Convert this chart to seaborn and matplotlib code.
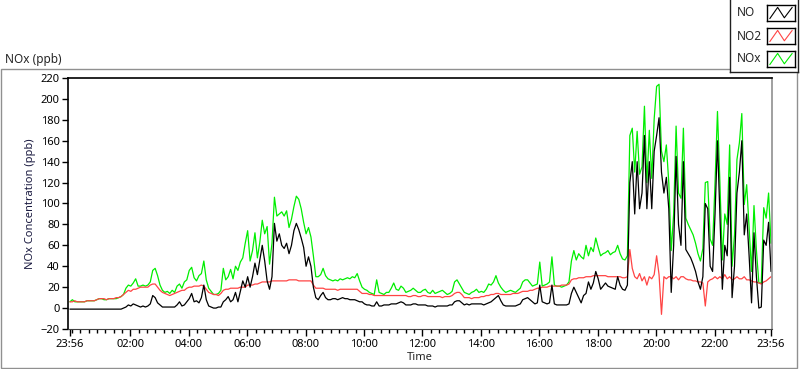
import numpy as np
import pandas as pd
import matplotlib
matplotlib.use('Agg')
import matplotlib.pyplot as plt
import seaborn as sns
from matplotlib.patches import Rectangle

# --- Données : une lecture toutes les 5 minutes, à partir de 23:56 ---
minutes = np.arange(0, 1441, 5)

no = [-1, -1, -1, -1, -1, -1, -1, -1, -1, -1, -1, -1, -1, -1, -1, -1, -1, -1, -1, -1, -1, -1, 0, 1,
      3, 2, 4, 3, 2, 1, 2, 1, 2, 4, 12, 10, 5, 3, 1, 1, 1, 1, 1, 1, 3, 6, 2, 3, 6, 9,
      14, 6, 7, 5, 10, 22, 8, 2, 1, 0, 0, 1, 1, 6, 8, 11, 6, 8, 15, 6, 16, 26, 20,
      30, 20, 30, 43, 32, 46, 60, 45, 26, 18, 30, 81,
      64, 71, 60, 57, 62, 52, 60, 74, 81, 75, 67, 58, 40, 49, 40,
      20, 10, 8, 12, 15, 10, 8, 8, 9, 9, 8, 9, 10, 9, 9, 8, 8, 8, 7,
      6, 6, 4, 3, 3, 2, 2, 6, 2, 2, 3, 3, 3, 4, 4, 4, 5, 6, 5, 3, 3, 3, 4, 4, 3, 3, 3, 3,
      2, 2, 2, 1, 2, 2, 2, 2, 2, 3, 3, 6, 7, 7, 5, 3, 4, 3, 4, 4,
      4, 4, 4, 3, 4, 5, 6, 8, 10, 12, 7, 3, 2, 2, 2, 2, 2, 3, 4, 8,
      9, 10, 8, 6, 4, 5, 22, 6, 5, 4, 5, 22, 4, 3, 3, 3, 3, 3, 4, 14,
      20, 15, 10, 5, 12, 14, 25, 18, 24, 35, 28, 18, 21, 24, 21, 20, 19, 18, 30, 22,
      18, 17, 22, 120, 140, 90, 140, 95, 110, 165, 95, 140, 95, 150, 165, 182, 130, 110, 125, 95,
      15, 60, 145, 80, 60, 140, 56, 52, 48, 42, 35, 25, 18, 30, 100, 95, 40, 35, 90, 160,
      90, 18, 60, 50, 125, 10, 40, 110, 130, 160, 70, 90, 50, 5, 72, 30, 0, 1, 65, 60,
      82, 35]

no2 = [6, 6, 7, 6, 6, 6, 6, 7, 7, 7, 7, 8, 9, 9, 9, 8, 9, 9, 9, 10, 10, 11, 13, 15,
       17, 16, 18, 18, 19, 20, 20, 20, 20, 22, 23, 23, 20, 17, 15, 14, 13, 12, 13, 14,
       15, 16, 17, 17, 19, 20, 20, 21, 21, 21, 22, 21, 18, 15, 14, 13, 13, 12, 14, 17,
       18, 18, 19, 19, 19, 19, 20, 20, 20,
       22, 22, 22, 23, 23, 24, 25, 25, 25, 25, 26, 26,
       26, 26, 26, 26, 26, 27, 27, 27, 27, 26, 26, 26, 26, 26, 26,
       22, 19, 19, 19, 19, 18, 18, 18, 18, 18, 17, 18, 18, 18, 18, 18, 18, 18, 18,
       16, 14, 14, 14, 13, 13, 12, 12, 12, 12, 12, 12, 12, 12, 12, 12, 12, 12, 12, 12,
       11, 11, 12, 12, 11, 11, 12, 12,
       11, 11, 11, 11, 11, 11, 10, 11, 11, 11, 12, 14, 15, 15, 13, 10, 10, 10, 9, 10,
       10, 10, 11, 11, 12, 12, 13, 13, 14, 14, 13, 13, 13, 13, 13, 14, 14, 14, 15, 16,
       16, 16, 17, 17, 18, 19, 19, 20, 20, 20, 21, 21, 21, 21, 21, 22, 22, 22, 23, 27,
       28, 28, 29, 29, 29, 30, 30, 30, 31, 31, 31, 31, 31, 31, 30, 30, 30, 30, 30, 30,
       29, 29, 30, 56, 38, 30, 28, 33, 26, 30, 22, 30, 28, 32, 50, 32, -6, 30, 28, 30,
       30, 28, 30, 27, 30, 30, 28, 27, 27, 26, 26, 25, 25, 24, 2, 25, 27, 28, 30, 28,
       30, 28, 32, 28, 30, 27, 28, 30, 28, 28, 30, 27, 27, 26, 25, 25, 24, 23, 25, 26,
       28, 30]

nox = [6, 8, 6, 6, 6, 6, 6, 7, 7, 7, 7, 8, 9, 9, 8, 8, 9, 9, 9, 9, 10, 11, 13, 19,
       22, 21, 24, 28, 21, 21, 22, 21, 22, 25, 36, 38, 31, 22, 17, 15, 16, 14, 17, 15,
       21, 23, 19, 25, 27, 36, 39, 29, 26, 31, 33, 45, 27, 19, 16, 13, 13, 14, 17, 38,
       27, 30, 37, 28, 40, 36, 44, 48, 62,
       74, 45, 55, 72, 48, 63, 84, 71, 78, 42, 62, 106,
       88, 90, 92, 88, 93, 77, 85, 97, 107, 104, 95, 82, 71, 77, 68,
       50, 30, 30, 32, 38, 31, 28, 27, 26, 27, 26, 28, 27, 28, 29, 28, 30, 29, 33,
       26, 20, 18, 17, 15, 14, 13, 27, 15, 14, 13, 15, 15, 19, 24, 18, 17, 21, 19, 15,
       16, 17, 19, 17, 15, 15, 17, 18,
       15, 14, 17, 14, 15, 16, 17, 15, 13, 14, 16, 25, 27, 23, 19, 15, 14, 13, 15, 16,
       18, 15, 16, 15, 18, 23, 22, 25, 31, 24, 20, 17, 15, 16, 17, 16, 15, 17, 19, 25,
       27, 27, 24, 21, 22, 23, 44, 21, 22, 23, 25, 49, 22, 21, 21, 20, 21, 22, 25, 45,
       55, 46, 52, 49, 47, 60, 50, 58, 54, 67, 58, 50, 52, 53, 55, 51, 53, 54, 60, 52,
       47, 46, 50, 165, 172, 130, 169, 128, 135, 193, 120, 170, 124, 181, 212, 214, 150, 140, 156, 120,
       55, 90, 174, 110, 105, 172, 86, 80, 75, 70, 62, 52, 45, 57, 120, 121, 66, 60, 120, 188,
       120, 46, 90, 80, 156, 40, 70, 142, 158, 186, 99, 118, 76, 35, 98, 55, 24, 24, 96, 86,
       110, 62]

tick_pos = [0, 124, 244, 364, 484, 604, 724, 844, 964, 1084, 1204, 1324, 1440]
tick_labels = ['23:56', '02:00', '04:00', '06:00', '08:00', '10:00', '12:00',
               '14:00', '16:00', '18:00', '20:00', '22:00', '23:56']

couleurs = {'NO': 'black', 'NO2': '#ff4444', 'NOx': '#00ee00'}

df = pd.DataFrame({'minutes': minutes, 'NO': no, 'NO2': no2, 'NOx': nox})
df_long = df.melt(id_vars='minutes', var_name='espece', value_name='ppb')

# --- Figure ---
sns.set_style('white')
plt.rcParams['font.family'] = ['Noto Sans', 'DejaVu Sans']

fig = plt.figure(figsize=(8, 3.69), dpi=100)

# cadre gris du panneau
fig.patches.append(Rectangle((0.5 / 800, 1 / 369), 796.5 / 800, 299 / 369, transform=fig.transFigure,
                             fill=False, edgecolor='#909090', linewidth=1, zorder=0))

ax = fig.add_axes([68 / 800, 1 - 329 / 369, 704 / 800, 251 / 369])
sns.lineplot(data=df_long, x='minutes', y='ppb', hue='espece', hue_order=['NOx', 'NO2', 'NO'],
             palette=couleurs, estimator=None, linewidth=0.9, legend=False, ax=ax)

ax.set_xlim(-4, 1442)
ax.set_ylim(-20, 220)
ax.set_yticks(range(-20, 221, 20))
ax.set_xticks(tick_pos)
ax.set_xticklabels(tick_labels)
ax.set_xticks(np.arange(4, 1440, 120 / 7), minor=True)

ax.tick_params(axis='x', which='major', direction='out', length=5, width=1, labelsize=8, pad=2, colors='black')
ax.tick_params(axis='x', which='minor', direction='out', length=3, width=1, colors='black')
ax.tick_params(axis='y', which='major', direction='out', length=4, width=1, labelsize=8, pad=2, colors='black')
ax.tick_params(left=True, bottom=True, which='both')

for cote in ['top', 'left']:
    ax.spines[cote].set_color('black')
    ax.spines[cote].set_linewidth(1.2)
ax.spines['bottom'].set_color('#404040')
ax.spines['right'].set_color('#909090')
ax.spines['right'].set_linewidth(1.2)

ax.set_xlabel('Time', fontsize=8, labelpad=2)
ax.set_ylabel('NOx Concentration (ppb)', fontsize=8, labelpad=3, color='#1a1a40')

fig.text(5 / 800, 1 - 59 / 369, 'NOx (ppb)', ha='left', va='center', fontsize=8.5)

# --- Légende façon LabVIEW ---
boite = fig.add_axes([730 / 800, 1 - 72 / 369, 68 / 800, 73 / 369], zorder=5)
boite.set_xticks([])
boite.set_yticks([])
boite.set_facecolor('white')
for s in boite.spines.values():
    s.set_color('#202020')
    s.set_linewidth(1)

for k, nom in enumerate(['NO', 'NO2', 'NOx']):
    yc = 13 + 23 * k
    fig.text(737 / 800, 1 - yc / 369, nom, ha='left', va='center', fontsize=8.5, zorder=10)
    sw = fig.add_axes([767 / 800, 1 - (yc + 8) / 369, 28 / 800, 16 / 369], zorder=6)
    sw.plot([0.1, 0.38, 0.62, 0.9], [0.15, 0.85, 0.2, 0.85], color=couleurs[nom], linewidth=0.8)
    sw.set_xlim(0, 1)
    sw.set_ylim(0, 1)
    sw.set_xticks([])
    sw.set_yticks([])
    for s in sw.spines.values():
        s.set_color('black')
        s.set_linewidth(1)

fig.savefig('out.png', dpi=100)
